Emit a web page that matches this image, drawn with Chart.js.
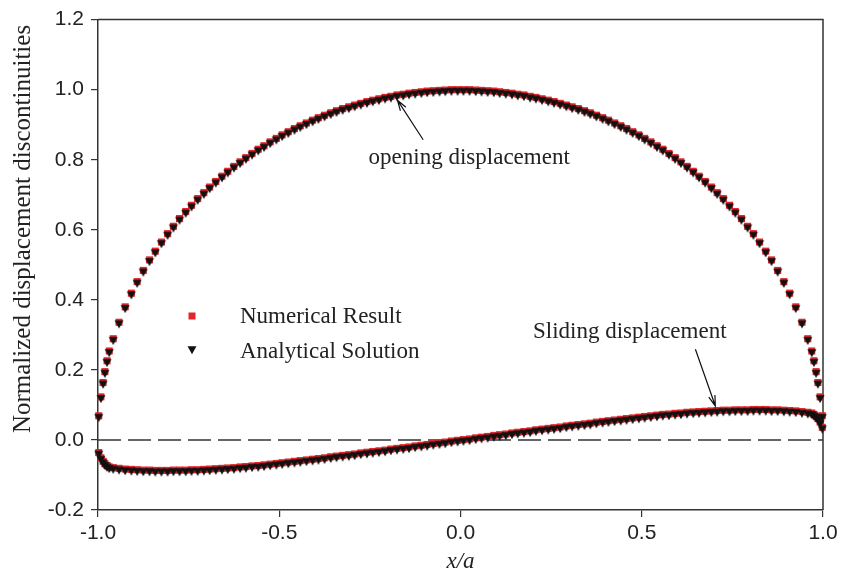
<!DOCTYPE html>
<html>
<head>
<meta charset="utf-8">
<script src="https://cdn.jsdelivr.net/npm/chart.js@4.4.0/dist/chart.umd.min.js"></script>
<style>
  body { margin: 0; background: #fff; }
  #wrap { width: 847px; height: 576px; }
</style>
</head>
<body>
<div id="wrap"><canvas id="myChart" width="847" height="576"></canvas></div>
<script>
// crack positions x/a (refined near the tips)
const xPos = [
  -0.998, -0.992, -0.986, -0.981, -0.975, -0.969, -0.958,
  -0.942, -0.925, -0.908, -0.892, -0.875, -0.858, -0.842, -0.825, -0.808, -0.792,
  -0.775, -0.758, -0.742, -0.725, -0.708, -0.692, -0.675, -0.658, -0.642, -0.625,
  -0.608, -0.592, -0.575, -0.558, -0.542, -0.525, -0.508, -0.492, -0.475, -0.458,
  -0.442, -0.425, -0.408, -0.392, -0.375, -0.358, -0.342, -0.325, -0.308, -0.292,
  -0.275, -0.258, -0.242, -0.225, -0.208, -0.192, -0.175, -0.158, -0.142, -0.125,
  -0.108, -0.092, -0.075, -0.058, -0.042, -0.025, -0.008,
  0.008, 0.025, 0.042, 0.058, 0.075, 0.092, 0.108,
  0.125, 0.142, 0.158, 0.175, 0.192, 0.208, 0.225, 0.242, 0.258, 0.275,
  0.292, 0.308, 0.325, 0.342, 0.358, 0.375, 0.392, 0.408, 0.425, 0.442,
  0.458, 0.475, 0.492, 0.508, 0.525, 0.542, 0.558, 0.575, 0.592, 0.608,
  0.625, 0.642, 0.658, 0.675, 0.692, 0.708, 0.725, 0.742, 0.758, 0.775,
  0.792, 0.808, 0.825, 0.842, 0.858, 0.875, 0.892, 0.908, 0.925, 0.942,
  0.958, 0.969, 0.975, 0.981, 0.986, 0.992, 0.998
];

// opening displacement
const openingDisp = [
  0.069, 0.123, 0.164, 0.195, 0.226, 0.254, 0.289,
  0.336, 0.380, 0.419, 0.452, 0.484, 0.514, 0.539, 0.565, 0.589, 0.610,
  0.632, 0.652, 0.670, 0.689, 0.706, 0.722, 0.738, 0.753, 0.767, 0.781,
  0.794, 0.806, 0.818, 0.830, 0.840, 0.851, 0.861, 0.871, 0.880, 0.889,
  0.897, 0.905, 0.913, 0.920, 0.927, 0.934, 0.940, 0.946, 0.951, 0.956,
  0.961, 0.966, 0.970, 0.974, 0.978, 0.981, 0.985, 0.987, 0.990, 0.992,
  0.994, 0.996, 0.997, 0.998, 0.999, 1.000, 1.000,
  1.000, 1.000, 0.999, 0.998, 0.997, 0.996, 0.994,
  0.992, 0.990, 0.987, 0.985, 0.981, 0.978, 0.974, 0.970, 0.966, 0.961,
  0.956, 0.951, 0.946, 0.940, 0.934, 0.927, 0.920, 0.913, 0.905, 0.897,
  0.889, 0.880, 0.871, 0.861, 0.851, 0.840, 0.830, 0.818, 0.806, 0.794,
  0.781, 0.767, 0.753, 0.738, 0.722, 0.706, 0.689, 0.670, 0.652, 0.632,
  0.610, 0.589, 0.565, 0.539, 0.514, 0.484, 0.452, 0.419, 0.380, 0.336,
  0.289, 0.254, 0.226, 0.195, 0.164, 0.123, 0.069
];

// sliding displacement
const slidingDisp = [
  -0.036, -0.051, -0.061, -0.068, -0.073, -0.077, -0.079,
  -0.081, -0.083, -0.084, -0.085, -0.086, -0.086, -0.087, -0.087, -0.087, -0.086,
  -0.086, -0.086, -0.085, -0.085, -0.084, -0.083, -0.082, -0.081, -0.080, -0.079,
  -0.077, -0.076, -0.074, -0.073, -0.071, -0.069, -0.067, -0.065, -0.063, -0.061,
  -0.059, -0.057, -0.055, -0.053, -0.051, -0.048, -0.046, -0.044, -0.042, -0.040,
  -0.037, -0.035, -0.033, -0.031, -0.029, -0.026, -0.024, -0.022, -0.020, -0.017,
  -0.015, -0.013, -0.010, -0.008, -0.006, -0.003, -0.001,
  0.001, 0.003, 0.006, 0.008, 0.010, 0.013, 0.015,
  0.017, 0.020, 0.022, 0.024, 0.026, 0.029, 0.031, 0.033, 0.035, 0.037,
  0.040, 0.042, 0.044, 0.046, 0.048, 0.051, 0.053, 0.055, 0.057, 0.059,
  0.061, 0.063, 0.065, 0.067, 0.069, 0.071, 0.073, 0.074, 0.076, 0.077,
  0.079, 0.080, 0.081, 0.082, 0.083, 0.084, 0.085, 0.085, 0.086, 0.086,
  0.086, 0.087, 0.087, 0.087, 0.086, 0.086, 0.085, 0.084, 0.083, 0.081,
  0.079, 0.077, 0.073, 0.068, 0.061, 0.051, 0.036
];

const zeroX = [-1, 1];
const zeroY = [0, 0];

const xTicks = [-1.0, -0.5, 0.0, 0.5, 1.0];
const yTicks = [-0.2, 0.0, 0.2, 0.4, 0.6, 0.8, 1.0, 1.2];

const legendLabels = ['Numerical Result', 'Analytical Solution'];
const yTitle = 'Normalized displacement discontinuities';

const RED = '#e2262b';
const serif = '"Liberation Serif", "DejaVu Serif", serif';
const sans = '"Liberation Sans", Arial, sans-serif';

function pts(ys) {
    return xPos.map((x, i) => ({ x: x, y: ys[i] }));
}

// down triangle, sitting a bit below the point so the red square peeks out on top
function makeTriangle() {
    const c = document.createElement('canvas');
    c.width = 12;
    c.height = 20;
    const g = c.getContext('2d');
    g.fillStyle = '#111';
    g.beginPath();
    g.moveTo(1.5, 8.3);
    g.lineTo(10.5, 8.3);
    g.lineTo(6, 16.3);
    g.closePath();
    g.fill();
    return c;
}
const triangle = makeTriangle();

// frame on top/right, y title, hand made legend and the two labelled arrows
const extras = {
    id: 'extras',
    beforeDatasetsDraw(chart) {
        const a = chart.chartArea;
        const ctx = chart.ctx;
        ctx.save();
        ctx.strokeStyle = '#333';
        ctx.lineWidth = 1.5;
        ctx.beginPath();
        ctx.moveTo(a.left, a.top);
        ctx.lineTo(a.right, a.top);
        ctx.lineTo(a.right, a.bottom);
        ctx.stroke();

        ctx.translate(23, 229);
        ctx.rotate(-Math.PI / 2);
        ctx.font = '25px ' + serif;
        ctx.fillStyle = '#222';
        ctx.textAlign = 'center';
        ctx.textBaseline = 'middle';
        ctx.fillText(yTitle, 0, 0);
        ctx.restore();
    },
    afterDatasetsDraw(chart) {
        const ctx = chart.ctx;
        const xs = chart.scales.x, ys = chart.scales.y;
        ctx.save();

        // legend
        ctx.fillStyle = RED;
        ctx.fillRect(192 - 3.5, 316 - 3.5, 7, 7);
        ctx.drawImage(triangle, 192 - 6, 348 - 10);
        ctx.font = '23px ' + serif;
        ctx.fillStyle = '#222';
        ctx.textBaseline = 'middle';
        ctx.textAlign = 'left';
        ctx.fillText(legendLabels[0], 240, 317);
        ctx.fillText(legendLabels[1], 240, 352);

        // notes with arrows
        const notes = [
            { text: 'opening displacement', x: 0.024, y: 0.806, from: [-0.103, 0.857], to: [-0.174, 0.970] },
            { text: 'Sliding displacement', x: 0.467, y: 0.307, from: [0.648, 0.259], to: [0.703, 0.097] }
        ];
        notes.forEach(function (n) {
            ctx.textAlign = 'center';
            ctx.fillText(n.text, xs.getPixelForValue(n.x), ys.getPixelForValue(n.y));
            const x1 = xs.getPixelForValue(n.from[0]), y1 = ys.getPixelForValue(n.from[1]);
            const x2 = xs.getPixelForValue(n.to[0]), y2 = ys.getPixelForValue(n.to[1]);
            const ang = Math.atan2(y2 - y1, x2 - x1);
            ctx.strokeStyle = '#111';
            ctx.lineWidth = 1.2;
            ctx.beginPath();
            ctx.moveTo(x1, y1);
            ctx.lineTo(x2, y2);
            ctx.moveTo(x2 - 11 * Math.cos(ang - 0.3), y2 - 11 * Math.sin(ang - 0.3));
            ctx.lineTo(x2, y2);
            ctx.lineTo(x2 - 11 * Math.cos(ang + 0.3), y2 - 11 * Math.sin(ang + 0.3));
            ctx.stroke();
        });
        ctx.restore();
    }
};

const ctx = document.getElementById('myChart');

const config = {
    type: 'scatter',
    data: {
        datasets: [{
            label: 'Analytical Solution',
            data: pts(openingDisp),
            pointStyle: triangle,
            pointRadius: 5,
            order: 1,
            clip: false
        }, {
            label: 'Analytical Solution',
            data: pts(slidingDisp),
            pointStyle: triangle,
            pointRadius: 5,
            order: 1,
            clip: false
        }, {
            label: 'Numerical Result',
            data: pts(openingDisp),
            pointStyle: 'rect',
            pointRadius: 5,
            pointBorderWidth: 0,
            backgroundColor: RED,
            borderColor: RED,
            order: 2,
            clip: false
        }, {
            label: 'Numerical Result',
            data: pts(slidingDisp),
            pointStyle: 'rect',
            pointRadius: 5,
            pointBorderWidth: 0,
            backgroundColor: RED,
            borderColor: RED,
            order: 2,
            clip: false
        }, {
            label: 'zero',
            data: zeroX.map((x, i) => ({ x: x, y: zeroY[i] })),
            showLine: true,
            pointRadius: 0,
            borderColor: '#333',
            borderWidth: 1.4,
            borderDash: [23, 7],
            order: 3
        }]
    },
    options: {
        responsive: false,
        animation: false,
        layout: { padding: { left: 0, top: 16, right: 24, bottom: 0 } },
        plugins: {
            legend: { display: false },
            tooltip: { enabled: false }
        },
        scales: {
            x: {
                type: 'linear',
                min: -1,
                max: 1,
                afterBuildTicks: function (s) { s.ticks = xTicks.map(v => ({ value: v })); },
                afterFit: function (s) { s.height = 66; },
                grid: { drawOnChartArea: false, drawTicks: true, tickLength: 7, color: '#333', lineWidth: 1.2 },
                border: { color: '#333', width: 1.5 },
                ticks: {
                    padding: 4,
                    color: '#222',
                    font: { family: sans, size: 21 },
                    callback: v => v.toFixed(1)
                },
                title: {
                    display: true,
                    text: 'x/a',
                    color: '#222',
                    padding: { top: 0, bottom: 0 },
                    font: { family: serif, size: 23, style: 'italic' }
                }
            },
            y: {
                type: 'linear',
                min: -0.2,
                max: 1.2,
                afterBuildTicks: function (s) { s.ticks = yTicks.map(v => ({ value: v })); },
                afterFit: function (s) { s.width = 98; },
                grid: { drawOnChartArea: false, drawTicks: true, tickLength: 7, color: '#333', lineWidth: 1.2 },
                border: { color: '#333', width: 1.5 },
                ticks: {
                    padding: 7,
                    color: '#222',
                    font: { family: sans, size: 21 },
                    callback: v => v.toFixed(1)
                }
            }
        }
    },
    plugins: [extras]
};

new Chart(ctx, config);
</script>
</body>
</html>
